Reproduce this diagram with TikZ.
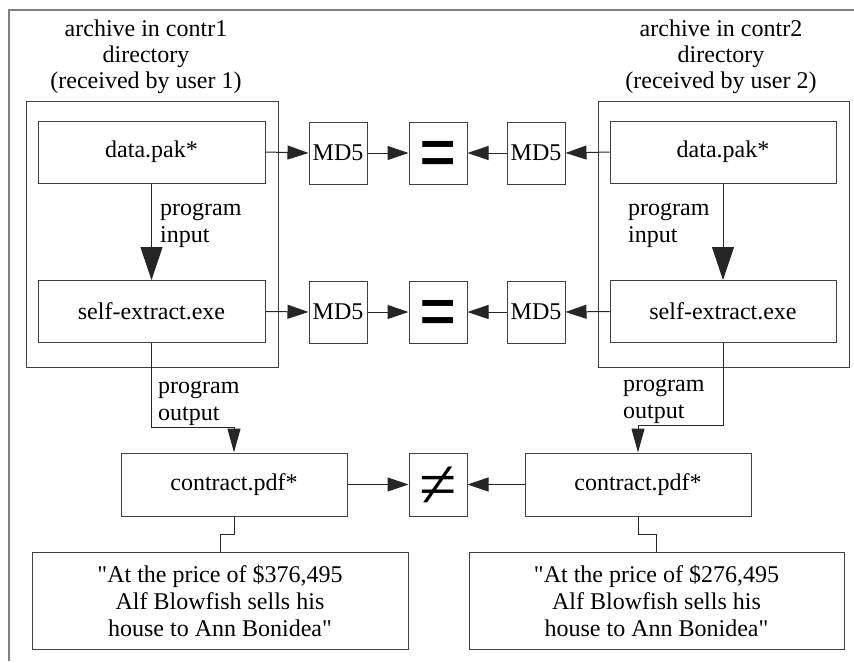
\documentclass[tikz,border=0pt]{standalone}
\usepackage{fontspec}
\setmainfont{Liberation Serif}[Ligatures=TeXOff]
\usetikzlibrary{arrows.meta}
\begin{document}
\begin{tikzpicture}[x=1pt,y=-1pt,
  every node/.style={font=\fontsize{24}{26.5}\selectfont},
  box/.style={draw=black!75,line width=1pt,rectangle,inner sep=0pt,minimum width=227pt,minimum height=62pt},
  group/.style={draw=black!75,line width=1pt,rectangle,inner sep=0pt,minimum width=252pt,minimum height=266pt},
  small/.style={box,minimum width=58pt,minimum height=62pt},
  quote/.style={box,minimum width=376pt,minimum height=97pt,align=center},
  lab/.style={align=left,inner sep=0pt,anchor=base west,font=\fontsize{24}{27}\selectfont},
  ttl/.style={align=center,inner sep=0pt,anchor=base,font=\fontsize{24}{26}\selectfont},
  conn/.style={draw=black!85,line width=1pt},
  arr/.style={conn,-{Triangle[length=21pt,width=14pt]}},
  bigarr/.style={conn,-{Triangle[length=33pt,width=22pt]}},
  midarr/.style={conn,-{Triangle[length=24pt,width=13pt]}},
  eqsym/.style={inner sep=0pt,font=\fontsize{66}{66}\selectfont\bfseries},
  nesym/.style={inner sep=0pt,font=\fontsize{68}{68}\selectfont}
]
\useasboundingbox (0,0) rectangle (854,662);
\draw[gray,line width=1.5pt] (854,10) -- (9,10) -- (9,661);

% groups
\node[group] (g1) at (152,234) {};
\node[group,minimum width=251pt] (g2) at (723.5,234) {};
\node[ttl] (t1) at (146,88) {archive in contr1\\directory\\(received by user 1)};
\node[ttl] (t2) at (721,88) {archive in contr2\\directory\\(received by user 2)};

% inner boxes
\node[box] (d1) at (151.5,152) {data.pak*};
\node[box] (s1) at (151.5,311.5) {self-extract.exe};
\node[box,minimum width=226pt] (d2) at (723,152) {data.pak*};
\node[box,minimum width=226pt] (s2) at (723,311.5) {self-extract.exe};

% md5 and comparison
\node[small] (m1) at (338,153) {MD5};
\node[small] (e1) at (438,153) {};
\node[eqsym,yshift=-8pt] (eq1) at (e1.center) {\scalebox{1}[1.3]{=}};
\node[small] (m2) at (536,153) {MD5};
\node[small] (m3) at (338,312) {MD5};
\node[small] (e2) at (438,312) {};
\node[eqsym,yshift=-8pt] (eq2) at (e2.center) {\scalebox{1}[1.3]{=}};
\node[small] (m4) at (536,312) {MD5};

% contracts
\node[box,minimum width=226pt,minimum height=63pt] (c1) at (234,484.5) {contract.pdf*};
\node[box,minimum width=226pt,minimum height=63pt] (c2) at (638,484.5) {contract.pdf*};
\node[small,minimum height=63pt] (ne) at (438,484.5) {};
\node[nesym,yshift=-3pt] (nes) at (ne.center) {≠};

% quotes
\node[quote,font=\fontsize{24}{27}\selectfont] (q1) at (220,600.5) {"At the price of \$376,495\\Alf Blowfish sells his\\house to Ann Bonidea"};
\node[quote,minimum width=375pt,font=\fontsize{24}{27}\selectfont] (q2) at (656.5,600.5) {"At the price of \$276,495\\Alf Blowfish sells his\\house to Ann Bonidea"};

% labels
\node[lab] (l1) at (160,242) {program\\input};
\node[lab] (l2) at (628,242) {program\\input};
\node[lab] (l3) at (158,420) {program\\output};
\node[lab] (l4) at (623,418) {program\\output};

% connectors
\draw[bigarr] (d1.south) -- (s1.north);
\draw[bigarr] (d2.south) -- (s2.north);
\draw[arr] (d1.east) -- (m1.west);
\draw[arr] (m1.east) -- (e1.west);
\draw[arr] (d2.west) -- (m2.east);
\draw[arr] (m2.west) -- (e1.east);
\draw[arr] (s1.east) -- (m3.west);
\draw[arr] (m3.east) -- (e2.west);
\draw[arr] (s2.west) -- (m4.east);
\draw[arr] (m4.west) -- (e2.east);
\draw[midarr] (s1.south) -- (s1.south |- 0,427) -| (c1.north);
\draw[midarr] (s2.south) -- (s2.south |- 0,425) -| (c2.north);
\draw[arr] (c1.east) -- (ne.west);
\draw[arr] (c2.west) -- (ne.east);
\draw[conn] (c1.south) -- (c1.south |- 0,534) -| (q1.north);
\draw[conn] (c2.south) -- (c2.south |- 0,534) -| (q2.north);
\end{tikzpicture}
\end{document}
